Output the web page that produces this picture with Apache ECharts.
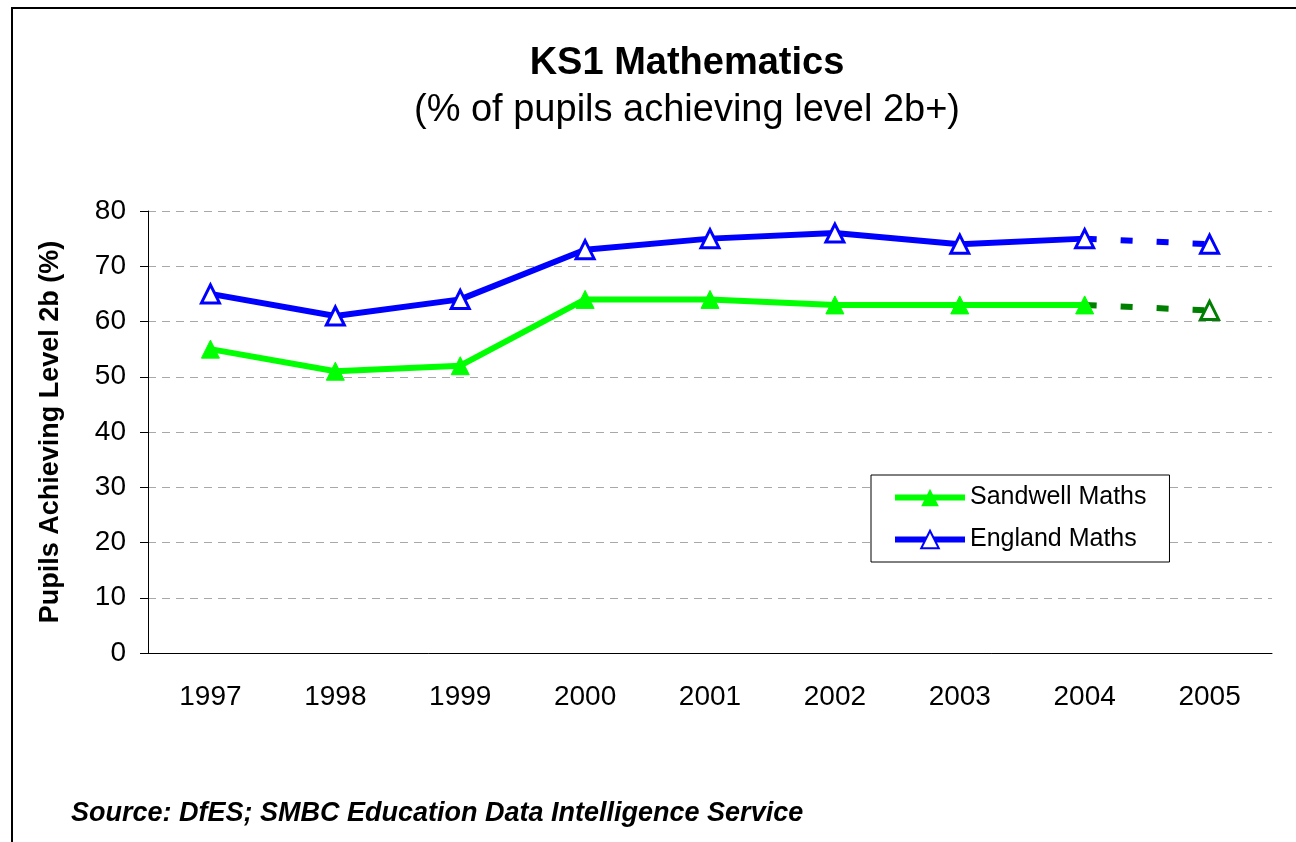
<!DOCTYPE html>
<html>
<head>
<meta charset="UTF-8">
<title>KS1 Mathematics</title>
<script src="https://cdn.jsdelivr.net/npm/echarts@6/dist/echarts.min.js"></script>
<style>
  html, body { margin: 0; padding: 0; background: #fff; }
  #main { width: 1296px; height: 842px; }
</style>
</head>
<body>
<div id="main"></div>
<script type="text/javascript">
    var years = ['1997', '1998', '1999', '2000', '2001', '2002', '2003', '2004', '2005'];
    var sandwell = [55, 51, 52, 64, 64, 63, 63, 63, null];
    var england = [65, 61, 64, 73, 75, 76, 74, 75, null];
    // 2005 is a projection, drawn dashed from 2004
    var sandwellTarget = [null, null, null, null, null, null, null, 63, 62];
    var englandTarget = [null, null, null, null, null, null, null, 75, 74];

    function targetData(arr) {
        return arr.map(function (v, i) {
            if (v === null) return null;
            // no marker at the join point, the solid series already has one
            return i === 7 ? { value: v, symbol: 'none' } : v;
        });
    }

    var myChart = echarts.init(document.getElementById('main'));
    var fontFam = 'Arial, "Liberation Sans", sans-serif';

    var option = {
        animation: false,
        backgroundColor: '#fff',
        textStyle: { fontFamily: fontFam },
        title: [
            {
                text: 'KS1 Mathematics',
                left: 682, top: 40, textAlign: 'center',
                textStyle: { fontSize: 38, fontWeight: 'bold', color: '#000', fontFamily: fontFam }
            },
            {
                text: '(% of pupils achieving level 2b+)',
                left: 682, top: 87, textAlign: 'center',
                textStyle: { fontSize: 38, fontWeight: 'normal', color: '#000', fontFamily: fontFam }
            },
            {
                text: 'Source: DfES; SMBC Education Data Intelligence Service',
                left: 66, top: 795,
                textStyle: { fontSize: 27, fontWeight: 'bold', fontStyle: 'italic', color: '#000', fontFamily: fontFam }
            }
        ],
        graphic: [
            {
                type: 'rect',
                shape: { x: 12, y: 8, width: 1300, height: 850 },
                style: { fill: null, stroke: '#000', lineWidth: 2 },
                silent: true
            }
        ],
        legend: {
            left: 871, top: 475,
            orient: 'vertical',
            padding: [10, 23, 10, 21],
            itemGap: 17,
            itemWidth: 70, itemHeight: 22,
            borderColor: '#000', borderWidth: 1,
            backgroundColor: '#fff',
            data: ['Sandwell Maths', 'England Maths'],
            lineStyle: { width: 6 },
            textStyle: { fontSize: 25, color: '#000', fontFamily: fontFam }
        },
        grid: { left: 148, right: 24, top: 211, bottom: 189, containLabel: false },
        xAxis: {
            type: 'category',
            data: years,
            boundaryGap: true,
            axisLine: { lineStyle: { color: '#000', width: 1 } },
            axisTick: { length: 8, lineStyle: { color: '#000' }, alignWithLabel: false },
            axisLabel: { fontSize: 28, color: '#000', margin: 30 },
            splitLine: { show: false }
        },
        yAxis: {
            type: 'value',
            min: 0, max: 80, interval: 10,
            name: 'Pupils Achieving Level 2b (%)',
            nameLocation: 'middle',
            nameGap: 84,
            nameTextStyle: { fontSize: 27, fontWeight: 'bold', color: '#000', fontFamily: fontFam },
            axisLine: { show: true, lineStyle: { color: '#000', width: 1 } },
            axisTick: { show: true, length: 8, lineStyle: { color: '#000' } },
            axisLabel: { fontSize: 28, color: '#000', margin: 22 },
            splitLine: { lineStyle: { color: '#a8a8a8', type: [8, 6], width: 1 } }
        },
        series: [
            {
                name: 'Sandwell Maths',
                type: 'line',
                data: sandwell,
                symbol: 'triangle',
                symbolSize: 18,
                lineStyle: { color: '#00ff00', width: 6 },
                itemStyle: { color: '#00ff00', borderColor: '#00ff00' },
                z: 3
            },
            {
                name: 'England Maths',
                type: 'line',
                data: england,
                symbol: 'triangle',
                symbolSize: 18,
                lineStyle: { color: '#0000ff', width: 6 },
                itemStyle: { color: '#fff', borderColor: '#0000ff', borderWidth: 3 },
                z: 3
            },
            {
                name: 'Sandwell 2005',
                type: 'line',
                data: targetData(sandwellTarget),
                symbol: 'triangle',
                symbolSize: 18,
                lineStyle: { color: '#008000', width: 6, type: [12, 24] },
                itemStyle: { color: '#fff', borderColor: '#008000', borderWidth: 3 },
                z: 2
            },
            {
                name: 'England 2005',
                type: 'line',
                data: targetData(englandTarget),
                symbol: 'triangle',
                symbolSize: 18,
                lineStyle: { color: '#0000ff', width: 6, type: [12, 24] },
                itemStyle: { color: '#fff', borderColor: '#0000ff', borderWidth: 3 },
                z: 2
            }
        ]
    };

    myChart.setOption(option);
</script>
</body>
</html>
